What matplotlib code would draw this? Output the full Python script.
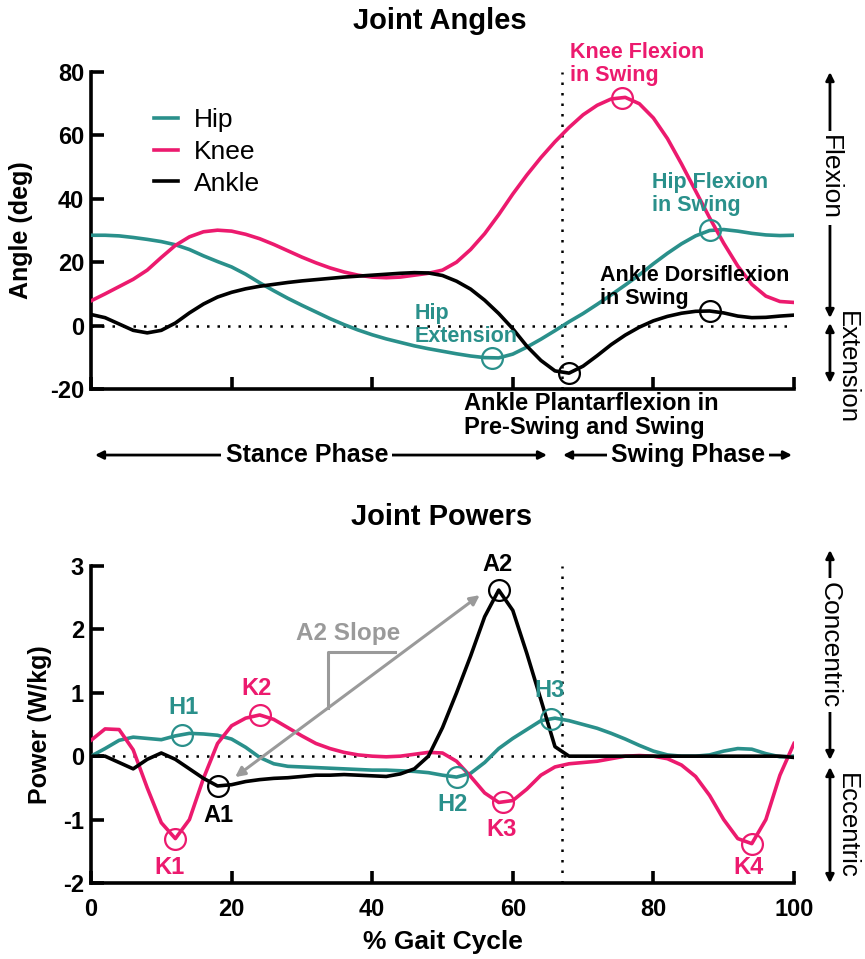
import numpy as np
import matplotlib
matplotlib.use("Agg")
import matplotlib.pyplot as plt
from matplotlib.patches import FancyArrowPatch

plt.rcParams['font.family'] = ['Liberation Sans', 'DejaVu Sans']
plt.rcParams['axes.unicode_minus'] = False

# gait cycle sampled every 2 %
cycle = np.arange(0, 101, 2)

# joint angles (deg)
hip_angle = [28.5, 28.5, 28.3, 27.8, 27.2, 26.5, 25.5, 24.0, 22.0, 20.2,
             18.5, 16.2, 13.5, 11.0, 8.6, 6.4, 4.3, 2.2, 0.3, -1.4,
             -2.9, -4.2, -5.3, -6.4, -7.3, -8.1, -8.9, -9.6, -10.1, -10.2,
             -9.0, -6.8, -4.3, -1.6, 1.2, 3.8, 6.7, 9.7, 12.8, 16.0,
             19.5, 22.8, 25.8, 28.3, 30.0, 30.3, 29.8, 29.1, 28.6, 28.4,
             28.5]
knee_angle = [7.8, 10.0, 12.3, 14.6, 17.5, 21.5, 25.3, 28.0, 29.6, 30.1,
              29.8, 28.8, 27.4, 25.6, 23.6, 21.6, 19.8, 18.2, 16.9, 15.9,
              15.3, 15.1, 15.3, 15.9, 16.5, 17.5, 20.0, 24.0, 29.0, 35.0,
              41.5, 47.5, 53.0, 58.0, 62.5, 66.5, 69.5, 71.5, 72.0, 70.0,
              65.5, 59.0, 51.0, 42.5, 34.0, 26.0, 18.8, 13.0, 9.3, 7.6,
              7.3]
ankle_angle = [3.5, 2.5, 0.5, -1.5, -2.3, -1.5, 0.8, 4.0, 6.8, 9.0,
               10.5, 11.6, 12.4, 13.0, 13.6, 14.1, 14.5, 14.9, 15.3, 15.6,
               15.9, 16.2, 16.5, 16.7, 16.6, 15.8, 14.0, 11.5, 8.0, 3.8,
               -1.0, -6.5, -11.0, -14.3, -15.0, -12.8, -9.5, -6.0, -3.0, -0.5,
               1.5, 2.9, 3.9, 4.5, 4.6, 4.0, 3.0, 2.5, 2.6, 3.0,
               3.3]

# joint powers (W/kg)
hip_power = [0.0, 0.12, 0.25, 0.30, 0.28, 0.26, 0.32, 0.36, 0.35, 0.33,
             0.27, 0.14, -0.02, -0.12, -0.16, -0.17, -0.18, -0.19, -0.20, -0.21,
             -0.22, -0.22, -0.23, -0.24, -0.26, -0.30, -0.33, -0.27, -0.10, 0.12,
             0.28, 0.42, 0.56, 0.60, 0.56, 0.50, 0.44, 0.36, 0.27, 0.17,
             0.08, 0.02, 0.0, 0.0, 0.02, 0.08, 0.12, 0.11, 0.04, -0.01,
             0.0]
knee_power = [0.25, 0.43, 0.42, 0.10, -0.50, -1.05, -1.30, -1.00, -0.35, 0.20,
              0.48, 0.60, 0.65, 0.58, 0.45, 0.32, 0.20, 0.12, 0.06, 0.02,
              0.0, -0.01, 0.0, 0.03, 0.06, 0.05, -0.08, -0.32, -0.58, -0.73,
              -0.70, -0.52, -0.30, -0.17, -0.12, -0.10, -0.08, -0.04, 0.0, 0.01,
              0.0, -0.04, -0.14, -0.32, -0.62, -1.00, -1.30, -1.38, -1.00, -0.30,
              0.20]
ankle_power = [0.0, 0.0, -0.10, -0.20, -0.05, 0.05, -0.05, -0.20, -0.35, -0.47,
               -0.45, -0.40, -0.37, -0.35, -0.34, -0.32, -0.30, -0.30, -0.29, -0.30,
               -0.31, -0.32, -0.28, -0.20, 0.0, 0.45, 1.00, 1.58, 2.20, 2.62,
               2.30, 1.62, 0.89, 0.15, 0.0, 0.0, 0.0, 0.0, 0.0, 0.0,
               0.0, 0.0, 0.0, 0.0, 0.0, 0.0, 0.0, 0.0, 0.0, 0.0,
               -0.02]

toe_off = 67

# events to circle: (position in cycle, series)
angle_events = [(75.5, 'knee'), (88, 'hip'), (88, 'ankle'), (57, 'hip'), (68, 'ankle')]
power_events = [(13, 'hip'), (12, 'knee'), (24, 'knee'), (18, 'ankle'), (52, 'hip'),
                (58.6, 'knee'), (58, 'ankle'), (65.5, 'hip'), (94, 'knee')]

teal = '#2a908b'
pink = '#ec1a6e'
grey = '#9a9a9a'
colors = {'hip': teal, 'knee': pink, 'ankle': 'black'}
angles = {'hip': hip_angle, 'knee': knee_angle, 'ankle': ankle_angle}
powers = {'hip': hip_power, 'knee': knee_power, 'ankle': ankle_power}

LW = 2.6
dots = (0, (1, 3.2))

fig = plt.figure(figsize=(8.65, 9.59), dpi=100)
ax1 = fig.add_axes([0.1052, 0.5944, 0.8127, 0.3305])
ax2 = fig.add_axes([0.1052, 0.0793, 0.8127, 0.3305])


def style_axis(ax):
    for s in ['top', 'right']:
        ax.spines[s].set_visible(False)
    for s in ['left', 'bottom']:
        ax.spines[s].set_linewidth(LW)
    ax.tick_params(direction='in', length=9, width=LW, labelsize=17, pad=5)
    for lab in ax.get_xticklabels() + ax.get_yticklabels():
        lab.set_fontweight('bold')
    ax.set_xlim(0, 100)
    ax.set_xticks([0, 20, 40, 60, 80, 100])


# ---- joint angles ----
ax1.axhline(0, color='black', lw=1.8, ls=dots, zorder=1)
ax1.axvline(toe_off, color='black', lw=1.8, ls=dots, zorder=1)
for name, lab in [('hip', 'Hip'), ('knee', 'Knee'), ('ankle', 'Ankle')]:
    ax1.plot(cycle, angles[name], color=colors[name], lw=LW, label=lab, zorder=3)
for x, name in angle_events:
    ax1.plot(x, np.interp(x, cycle, angles[name]), 'o', ms=15, mfc='none',
             mec=colors[name], mew=1.6, zorder=4)
ax1.set_ylim(-20, 80)
ax1.set_yticks([-20, 0, 20, 40, 60, 80])
style_axis(ax1)
ax1.set_xticklabels([])
ax1.set_ylabel('Angle (deg)', fontsize=18, fontweight='bold')
ax1.yaxis.set_label_coords(-0.083, 0.5)
ax1.legend(loc='upper left', bbox_to_anchor=(0.09, 0.887), frameon=False,
           fontsize=19, handlelength=0.9, handletextpad=0.6, labelspacing=0.3,
           borderpad=0, borderaxespad=0)

kw = dict(fontsize=15.5, fontweight='bold', clip_on=False, linespacing=1.1)
ax1.text(68.1, 82.5, 'Knee Flexion\nin Swing', color=pink, va='center', **kw)
ax1.text(79.8, 41.5, 'Hip Flexion\nin Swing', color=teal, va='center', **kw)
ax1.text(72.4, 12.2, 'Ankle Dorsiflexion\nin Swing', color='black', va='center', **kw)
ax1.text(46.1, 0.2, 'Hip\nExtension', color=teal, va='center', **kw)
kw['fontsize'] = 17
ax1.text(53.0, -28.4, 'Ankle Plantarflexion in\nPre-Swing and Swing', color='black',
         va='center', **kw)

# ---- joint powers ----
ax2.axhline(0, color='black', lw=1.8, ls=dots, zorder=1)
ax2.axvline(toe_off, color='black', lw=1.8, ls=dots, zorder=1)
for name in ['hip', 'knee', 'ankle']:
    ax2.plot(cycle, powers[name], color=colors[name], lw=LW, zorder=3)
for x, name in power_events:
    ax2.plot(x, np.interp(x, cycle, powers[name]), 'o', ms=15, mfc='none',
             mec=colors[name], mew=1.6, zorder=4)
ax2.set_ylim(-2, 3)
ax2.set_yticks([-2, -1, 0, 1, 2, 3])
style_axis(ax2)
ax2.tick_params(axis='x', pad=11)
ax2.set_ylabel('Power (W/kg)', fontsize=18, fontweight='bold')
ax2.yaxis.set_label_coords(-0.055, 0.5)
ax2.set_xlabel('% Gait Cycle', fontsize=19, fontweight='bold')
ax2.xaxis.set_label_coords(0.5, -0.15)

pk = dict(fontsize=17, fontweight='bold', ha='center', va='center', clip_on=False)
ax2.text(13.1, 0.76, 'H1', color=teal, **pk)
ax2.text(23.6, 1.06, 'K2', color=pink, **pk)
ax2.text(11.2, -1.75, 'K1', color=pink, **pk)
ax2.text(18.1, -0.93, 'A1', color='black', **pk)
ax2.text(51.5, -0.77, 'H2', color=teal, **pk)
ax2.text(58.4, -1.16, 'K3', color=pink, **pk)
ax2.text(57.9, 3.02, 'A2', color='black', **pk)
ax2.text(65.3, 1.04, 'H3', color=teal, **pk)
ax2.text(93.5, -1.75, 'K4', color=pink, **pk)

# A2 slope arrow with its little slope triangle
ax2.annotate('', xy=(55.3, 2.54), xytext=(20.5, -0.33),
             arrowprops=dict(arrowstyle='<|-|>', color=grey, lw=2.2,
                             mutation_scale=14, shrinkA=0, shrinkB=0), zorder=5)
ax2.plot([33.7, 33.7, 43.2], [0.76, 1.64, 1.64], color=grey, lw=2.2, zorder=5)
ax2.text(36.6, 1.93, 'A2 Slope', color=grey, fontsize=17.5, fontweight='bold',
         ha='center', va='center')

# ---- titles, phase bars and direction arrows ----
fig.text(0.509, 0.978, 'Joint Angles', fontsize=21, fontweight='bold',
         ha='center', va='center')
fig.text(0.510, 0.461, 'Joint Powers', fontsize=21, fontweight='bold',
         ha='center', va='center')


def fig_arrow(p0, p1):
    a = FancyArrowPatch(p0, p1, transform=fig.transFigure, arrowstyle='<|-|>',
                        mutation_scale=12, lw=2.0, color='black',
                        shrinkA=0, shrinkB=0, zorder=1)
    fig.add_artist(a)


box = dict(facecolor='white', edgecolor='none', pad=3)
phase_y = 0.5255
fig_arrow((0.1098, phase_y), (0.6324, phase_y))
fig.text(0.3549, phase_y, 'Stance Phase', fontsize=18, fontweight='bold',
         ha='center', va='center', bbox=box, zorder=3)
fig_arrow((0.6509, phase_y), (0.9156, phase_y))
fig.text(0.7954, phase_y, 'Swing Phase', fontsize=18, fontweight='bold',
         ha='center', va='center', bbox=box, zorder=3)

fig_arrow((0.9595, 0.9249), (0.9595, 0.6684))
fig.text(0.9595, 0.8144, 'Flexion', fontsize=19, rotation=270,
         ha='center', va='center', bbox=box, zorder=3)
fig_arrow((0.9595, 0.6632), (0.9595, 0.6006))
fig.text(0.979, 0.6173, 'Extension', fontsize=18.5, rotation=270,
         ha='center', va='center')

fig_arrow((0.9595, 0.4265), (0.9595, 0.2075))
fig.text(0.9595, 0.3274, 'Concentric', fontsize=19, rotation=270,
         ha='center', va='center', bbox=box, zorder=3)
fig_arrow((0.9595, 0.2002), (0.9595, 0.0792))
fig.text(0.979, 0.1387, 'Eccentric', fontsize=18.5, rotation=270,
         ha='center', va='center')

fig.savefig('out.png', dpi=100)
